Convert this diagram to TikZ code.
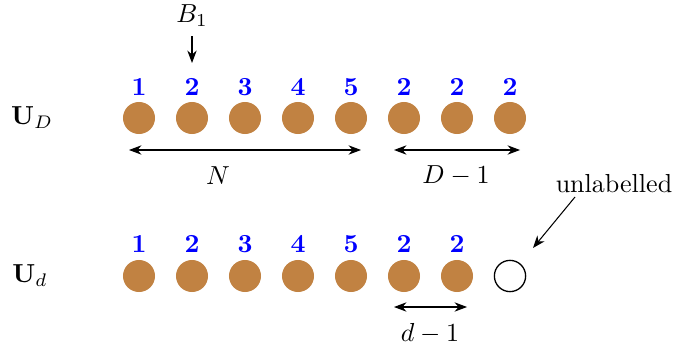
\documentclass[tikz,border=0pt]{standalone}
\usepackage{amsmath}
\usepackage{xcolor}
\usetikzlibrary{arrows.meta}
\definecolor{ballbrown}{RGB}{193,130,66}
\definecolor{labelblue}{RGB}{0,0,255}
\tikzset{
  ball/.style={circle,fill=ballbrown,inner sep=0pt,minimum size=12.3pt},
  emptyball/.style={circle,draw=black,thick,inner sep=0pt,minimum size=12pt},
  num/.style={labelblue,font=\bfseries},
}

\begin{document}
\begin{tikzpicture}[>=Stealth,x=0.384pt,y=-0.384pt]
\useasboundingbox (0,0) rectangle (678,351);
% top row
\node (UD) at (32,118) {$\mathbf{U}_D$};
\node[ball] (a1) at (139,118) {};
\node[ball] (a2) at (192,118) {};
\node[ball] (a3) at (245,118) {};
\node[ball] (a4) at (298,118) {};
\node[ball] (a5) at (351,118) {};
\node[ball] (a6) at (404,118) {};
\node[ball] (a7) at (457,118) {};
\node[ball] (a8) at (510,118) {};
\node[num] (na1) at (139,87) {1};
\node[num] (na2) at (192,87) {2};
\node[num] (na3) at (245,87) {3};
\node[num] (na4) at (298,87) {4};
\node[num] (na5) at (351,87) {5};
\node[num] (na6) at (404,87) {2};
\node[num] (na7) at (457,87) {2};
\node[num] (na8) at (510,87) {2};
\node (B1) at (192,16) {$B_1$};
\coordinate (B1tip) at (192,63);
\draw[->] (B1) -- (B1tip);
\coordinate (nL) at (129,150);
\coordinate (nR) at (361,150);
\draw[<->] (nL) -- (nR);
\node (N) at (218,176) {$N$};
\coordinate (DL) at (394,150);
\coordinate (DR) at (520,150);
\draw[<->] (DL) -- (DR);
\node (Dm1) at (456,176) {$D-1$};
% bottom row
\node (Ud) at (30,276) {$\mathbf{U}_d$};
\node[ball] (b1) at (139,276) {};
\node[ball] (b2) at (192,276) {};
\node[ball] (b3) at (245,276) {};
\node[ball] (b4) at (298,276) {};
\node[ball] (b5) at (351,276) {};
\node[ball] (b6) at (404,276) {};
\node[ball] (b7) at (457,276) {};
\node[emptyball,draw,line width=0.5pt] (b8) at (510,276) {};
\node[num] (nb1) at (139,244) {1};
\node[num] (nb2) at (192,244) {2};
\node[num] (nb3) at (245,244) {3};
\node[num] (nb4) at (298,244) {4};
\node[num] (nb5) at (351,244) {5};
\node[num] (nb6) at (404,244) {2};
\node[num] (nb7) at (457,244) {2};
\coordinate (dL) at (394,307);
\coordinate (dR) at (467,307);
\draw[<->] (dL) -- (dR);
\node (dm1) at (430,334) {$d-1$};
\node (unl) at (614,184) {unlabelled};
\coordinate (uS) at (575,197);
\coordinate (uT) at (533,248);
\draw[->] (uS) -- (uT);
\end{tikzpicture}
\end{document}
